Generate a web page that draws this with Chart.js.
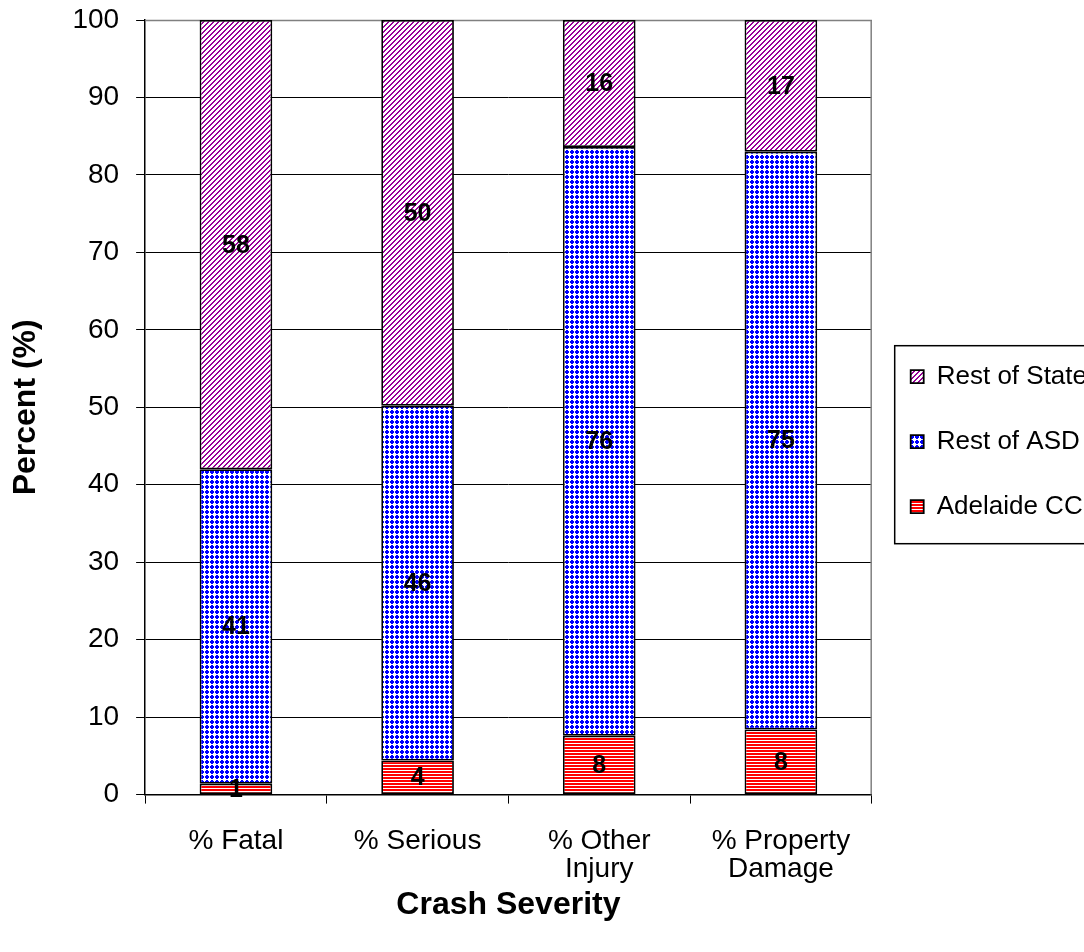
<!DOCTYPE html>
<html lang="en">
<head>
  <meta charset="UTF-8" />
  <title>Crash Severity</title>
  <script src="https://cdn.jsdelivr.net/npm/chart.js"></script>
  <style>
    html, body { margin: 0; padding: 0; background: #fff; overflow: hidden; }
    /* a little wider than the window: the legend frame runs off the right edge */
    .wrap { position: relative; width: 1097px; height: 952px; }
  </style>
</head>
<body>
  <div class="wrap"><canvas id="crashChart"></canvas></div>

  <script>
    // chart data
    const categories = ["% Fatal", "% Serious", ["% Other", "Injury"], ["% Property", "Damage"]];
    const adelaideCC = [1.4, 4.4, 7.6, 8.4];
    const restOfASD = [40.6, 45.8, 76.0, 74.6];
    const restOfState = [58.0, 49.8, 16.4, 17.0];
    const yTicks = [0, 10, 20, 30, 40, 50, 60, 70, 80, 90, 100];

    const FONT = "'Liberation Sans', Arial, sans-serif";

    // small fill patterns like the old office chart
    const makePattern = (size, draw) => {
      const tile = document.createElement("canvas");
      tile.width = size; tile.height = size;
      const c = tile.getContext("2d");
      c.fillStyle = "#fff";
      c.fillRect(0, 0, size, size);
      draw(c);
      return c.createPattern(tile, "repeat");
    };

    const redStripes = makePattern(3, c => {
      c.fillStyle = "#ff0000";
      c.fillRect(0, 0, 3, 2);
    });

    const blueDots = makePattern(5, c => {
      c.fillStyle = "#0000ff";
      c.fillRect(1, 0, 2, 4);
      c.fillRect(0, 1, 4, 2);
    });

    const purpleHatch = makePattern(5, c => {
      c.fillStyle = "#990099";
      for (let i = 0; i < 5; i++) {
        c.fillRect(4 - i, i, 1, 1);
        c.fillRect((5 - i) % 5, i, 1, 1);
      }
    });

    // rounded value in the middle of each segment
    const segmentLabels = {
      id: "segmentLabels",
      afterDatasetsDraw(chart) {
        const ctx = chart.ctx;
        ctx.save();
        ctx.font = "bold 25px " + FONT;
        ctx.fillStyle = "#000";
        ctx.textAlign = "center";
        ctx.textBaseline = "middle";
        chart.data.datasets.forEach((ds, i) => {
          chart.getDatasetMeta(i).data.forEach((bar, j) => {
            const p = bar.getCenterPoint();
            ctx.fillText(Math.round(ds.data[j]), p.x, p.y + 1);
          });
        });
        ctx.restore();
      }
    };

    // grey plot frame (top/right) and the legend border
    const frame = {
      id: "frame",
      beforeDatasetsDraw(chart) {
        const { ctx, chartArea: a } = chart;
        ctx.save();
        ctx.strokeStyle = "#808080";
        ctx.lineWidth = 1.5;
        ctx.beginPath();
        ctx.moveTo(a.left, a.top + 0.5);
        ctx.lineTo(a.right - 0.5, a.top + 0.5);
        ctx.lineTo(a.right - 0.5, a.bottom);
        ctx.stroke();
        ctx.restore();
      },
      afterDraw(chart) {
        const boxes = chart.legend.legendHitBoxes;
        if (!boxes || !boxes.length) return;
        const top = boxes[0].top - 18;
        const last = boxes[boxes.length - 1];
        const bottom = last.top + last.height + 24;
        const left = boxes[0].left - 16;
        const ctx = chart.ctx;
        ctx.save();
        ctx.strokeStyle = "#000";
        ctx.lineWidth = 1.5;
        ctx.strokeRect(left, top, 300, bottom - top);
        ctx.restore();
      }
    };

    new Chart(document.getElementById("crashChart"), {
      type: "bar",
      data: {
        labels: categories,
        datasets: [
          { label: "Adelaide CC", data: adelaideCC, backgroundColor: redStripes },
          { label: "Rest of ASD", data: restOfASD, backgroundColor: blueDots },
          { label: "Rest of State", data: restOfState, backgroundColor: purpleHatch }
        ].map(d => Object.assign(d, {
          borderColor: "#000",
          borderWidth: 1.8,
          borderSkipped: false,
          categoryPercentage: 1,
          barPercentage: 0.4
        }))
      },
      options: {
        responsive: true,
        maintainAspectRatio: false,
        animation: false,
        layout: { padding: { top: 20, left: 7, right: 0, bottom: 28 } },
        plugins: {
          tooltip: { enabled: false },
          legend: {
            position: "right",
            fullSize: false,
            reverse: true,
            // empty title only pushes the items down to where the original sits
            title: { display: true, text: "", font: { size: 9 }, padding: 29 },
            labels: {
              color: "#000",
              font: { family: FONT, size: 26 },
              boxWidth: 13,
              boxHeight: 13,
              padding: 39
            }
          }
        },
        scales: {
          x: {
            stacked: true,
            grid: { offset: true, drawOnChartArea: false, color: "#000", tickLength: 9 },
            border: { color: "#000", width: 1.5 },
            ticks: { color: "#000", font: { family: FONT, size: 28, lineHeight: 1.0 }, padding: 24, maxRotation: 0 },
            title: {
              display: true, text: "Crash Severity", color: "#000",
              font: { family: FONT, size: 32, weight: "bold" }, padding: { top: -22, bottom: 0 }
            }
          },
          y: {
            stacked: true,
            min: 0, max: 100,
            afterBuildTicks: axis => { axis.ticks = yTicks.map(v => ({ value: v })); },
            grid: { color: "#000", tickLength: 9 },
            border: { color: "#000", width: 1.5 },
            ticks: { color: "#000", font: { family: FONT, size: 28, lineHeight: 0.2 }, padding: 17 },
            title: {
              display: true, text: "Percent (%)", color: "#000",
              font: { family: FONT, size: 32, weight: "bold" }, padding: { top: 0, bottom: 10 }
            }
          }
        }
      },
      plugins: [segmentLabels, frame]
    });
  </script>
</body>
</html>
